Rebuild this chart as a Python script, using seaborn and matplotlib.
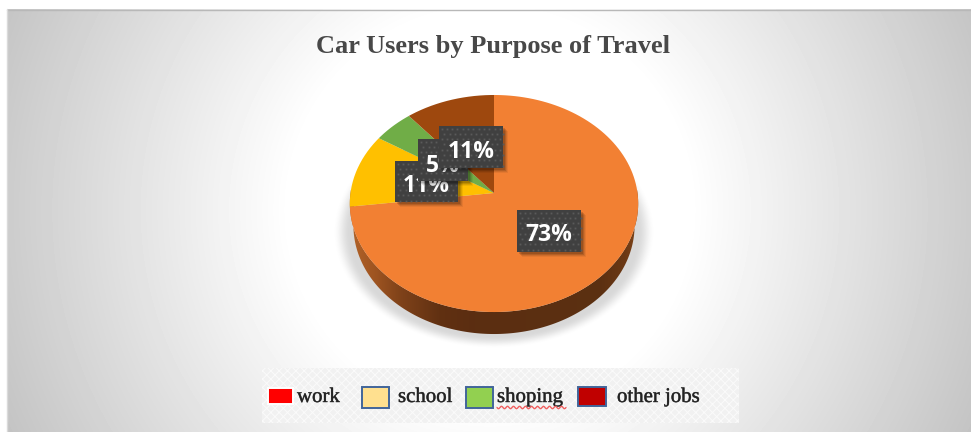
import numpy as np
import matplotlib
matplotlib.use("Agg")
import matplotlib.pyplot as plt
import seaborn as sns
from matplotlib.patches import Polygon, Rectangle
from matplotlib.transforms import Affine2D
from matplotlib import patheffects as pe

# Chart data
purposes = ["work", "school", "shoping", "other jobs"]
shares = [73, 11, 5, 11]
slice_colors = ["#F28033", "#FFC000", "#70AD47", "#9E480E"]
legend_colors = ["#FF0000", "#FFE08F", "#92D050", "#C00000"]
title_text = "Car Users by Purpose of Travel"

sns.set_theme(style="white")
plt.rcParams["hatch.linewidth"] = 0.7

W, H = 971, 432
fig = plt.figure(figsize=(W / 100, H / 100), dpi=100, facecolor="white")
ax = fig.add_axes([0, 0, 1, 1])
ax.set_xlim(0, W)
ax.set_ylim(H, 0)
ax.axis("off")

# Panel background: circular fade from white to grey corners
px, py = np.meshgrid(np.arange(7, W) + 0.5, np.arange(9, H) + 0.5)
r = np.hypot(px - 490, py - 210)
shade = 1 - 0.2 * np.clip((r - 200) / 283, 0, None)
ax.imshow(shade, extent=(7, W, H, 9), cmap="gray", vmin=0, vmax=1,
          aspect="auto", zorder=0, interpolation="bilinear")
ax.plot([7, W], [9.5, 9.5], color="#B8B8B8", lw=1, zorder=1)
ax.plot([7, 7], [9, H], color="#DADADA", lw=1, zorder=1)
ax.set_xlim(0, W)
ax.set_ylim(H, 0)

# Tilted disc: a circle seen in perspective, in pixel space
CX, CY, KX, KY, TILT = 494.0, 193.0, 143.5, 107.5, 0.0968
DEPTH = 22


def project(xy):
    xy = np.asarray(xy)
    den = 1 + TILT * xy[:, 1]
    return np.column_stack([CX + KX * xy[:, 0] / den, CY - KY * xy[:, 1] / den])


# Soft shadow under the disc
sx, sy = np.meshgrid(np.arange(320, 670) + 0.5, np.arange(150, 370) + 0.5)
d = np.sqrt(((sx - 494) / 156) ** 2 + ((sy - 232) / 113) ** 2)
rgba = np.zeros(sx.shape + (4,))
rgba[..., :3] = 0.6
edge_t = np.clip((1.03 - d) / 0.11, 0, 1)
rgba[..., 3] = 0.38 * edge_t * edge_t * (3 - 2 * edge_t)
ax.imshow(rgba, extent=(320, 670, 370, 150), aspect="auto", zorder=2)

# Disc wall with a lit left edge
ang = np.linspace(np.pi * 0.985, np.pi * 2.015, 200)
rim = project(np.column_stack([np.cos(ang), np.sin(ang)]))
lower = rim.copy()
lower[:, 0] = CX + (lower[:, 0] - CX) * 0.975
lower[:, 1] += DEPTH
wall_xy = np.vstack([rim, lower[::-1]])
wall = Polygon(wall_xy, closed=True, transform=ax.transData, fc="none", ec="none")
ax.add_patch(wall)
stops_x = [350, 375, 400, 440, 470, 600, 625, 640]
stops_c = np.array([[0.70, 0.39, 0.16], [0.62, 0.33, 0.13], [0.50, 0.26, 0.10],
                    [0.38, 0.19, 0.07], [0.36, 0.18, 0.07], [0.36, 0.19, 0.07],
                    [0.42, 0.22, 0.08], [0.52, 0.28, 0.10]])
gx = np.arange(345, 645) + 0.5
grad = np.stack([np.interp(gx, stops_x, stops_c[:, i]) for i in range(3)], axis=-1)[None, :, :]
im = ax.imshow(grad, extent=(345, 645, 340, 190), aspect="auto", zorder=3)
im.set_clip_path(wall)

# Pie slices: wedges from the library, projected onto the tilted disc
helper = fig.add_axes([0, 0, 0.1, 0.1])
wedges, _ = helper.pie(shares, startangle=90, counterclock=False,
                       colors=sns.color_palette(slice_colors))
helper.set_visible(False)
for wedge in wedges:
    scale = 800.0
    polys = wedge.get_path().transformed(Affine2D().scale(scale)).to_polygons(closed_only=False)
    verts = np.vstack(polys) / scale
    ax.add_patch(Polygon(project(verts), closed=True, fc=wedge.get_facecolor(),
                         ec="none", zorder=4))

# Value labels, stacked in drawing order: left 11%, 5%, right 11%, then 73%
label_order = [1, 2, 3, 0]
label_boxes = {0: (517, 210, 64, 42), 1: (395, 161, 63, 41),
               2: (418, 139, 50, 42), 3: (439, 126, 64, 42)}
label_drop = {0: 4, 1: 4, 2: 6, 3: 4.5}
z = 10
for idx in label_order:
    x0, y0, bw, bh = label_boxes[idx]
    for off, alpha in ((5, 0.06), (4, 0.09), (3, 0.12), (2, 0.14)):
        ax.add_patch(Rectangle((x0 + off, y0 + off), bw, bh, fc="black", ec="none",
                               alpha=alpha, zorder=z))
    ax.add_patch(Rectangle((x0, y0), bw, bh, fc="#404040", ec="none", zorder=z + 0.1))
    # Staggered dot texture of the label plate
    dots_x, dots_y = [], []
    for row, yy in enumerate(np.arange(y0 + 2.5, y0 + bh, 5.33)):
        for xx in np.arange(x0 + 2.5 + (row % 2) * 2.67, x0 + bw, 5.33):
            dots_x.append(xx)
            dots_y.append(yy)
    ax.plot(dots_x, dots_y, ls="none", marker="s", ms=1.3, mew=0, color="#5A5A5A",
            zorder=z + 0.15)
    ax.text(x0 + bw / 2, y0 + bh / 2 + label_drop[idx], f"{shares[idx]}%", color="white",
            family="Open Sans", weight="bold", fontsize=16.5, ha="center",
            va="center", zorder=z + 0.2)
    z += 1

# Title
ax.text(493, 47, title_text, family="Liberation Serif", weight="bold",
        fontsize=19, color="#484848", ha="center", va="center", zorder=5)

# Legend strip
ax.add_patch(Rectangle((262, 368), 477, 55, fc="#F1F1F1", ec="none", zorder=5))
ax.add_patch(Rectangle((262, 368), 477, 55, fc="none", ec="#FAFAFA", lw=0,
                       hatch="xxxx", zorder=5.1))
swatches = [(268, 388, 25, 16), (362, 387, 27, 21), (466, 387, 27, 21), (578, 387, 28, 19)]
text_x = [297, 398, 497, 617]
for i, name in enumerate(purposes):
    sw = swatches[i]
    edge = "#FFFFFF" if i == 0 else "#41659A"
    ax.add_patch(Rectangle(sw[:2], sw[2], sw[3], fc=legend_colors[i], ec=edge,
                           lw=1.4, zorder=6))
    ax.text(text_x[i], 397.5, name, family="Liberation Serif", fontsize=15,
            color="#222222", ha="left", va="center", zorder=6,
            path_effects=[pe.withStroke(linewidth=0.4, foreground="#555555")])

# Spell-check squiggle beneath the misspelt entry
wx = np.linspace(497, 566, 140)
ax.plot(wx, 407.5 + 1.2 * np.sin((wx - 497) * 2 * np.pi / 6), color="#F06060", lw=1, zorder=6)

fig.savefig("out.png", dpi=100, facecolor="white")
